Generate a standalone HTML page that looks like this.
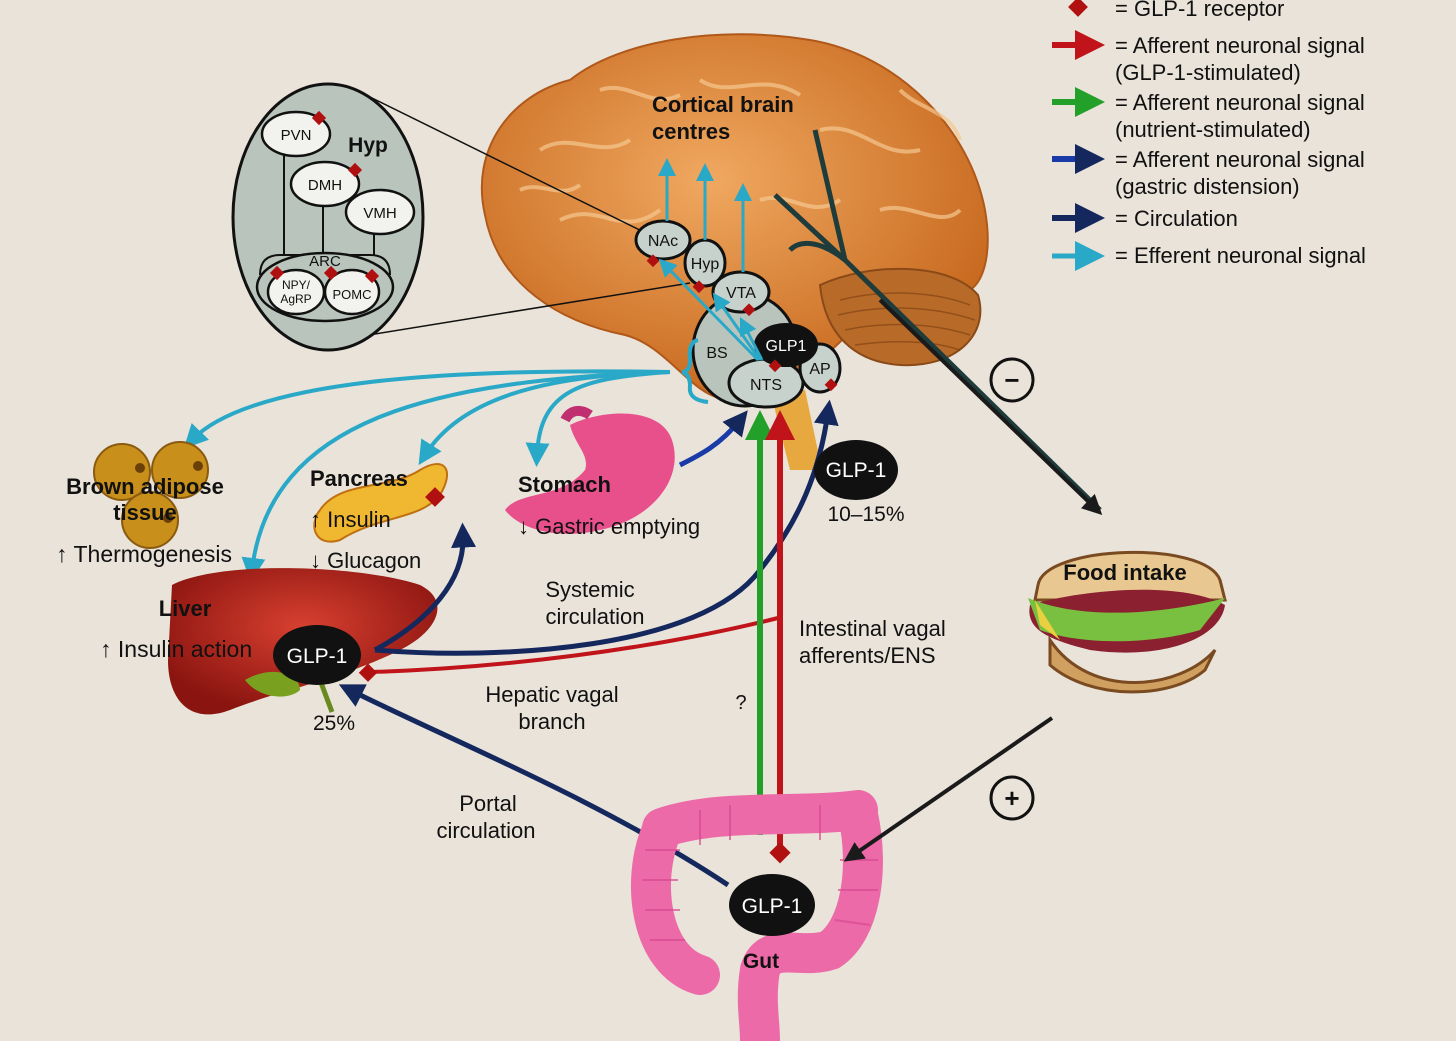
<!DOCTYPE html>
<html><head><meta charset="utf-8"><style>
html,body{margin:0;padding:0;background:#e9e3d9;}
svg{display:block;font-family:"Liberation Sans",Arial,sans-serif;}
</style></head><body>
<svg width="1456" height="1041" viewBox="0 0 1456 1041" xmlns="http://www.w3.org/2000/svg">
<defs>
<marker id="ac" markerWidth="6" markerHeight="6" refX="3" refY="3" orient="auto" markerUnits="strokeWidth"><path d="M0,0 L6,3 L0,6 Z" fill="#2aa8c8"/></marker>
<marker id="ab" markerWidth="5" markerHeight="5" refX="2.5" refY="2.5" orient="auto" markerUnits="strokeWidth"><path d="M0,0 L5,2.5 L0,5 Z" fill="#14285e"/></marker>
<marker id="ak" markerWidth="5" markerHeight="5" refX="2.5" refY="2.5" orient="auto" markerUnits="strokeWidth"><path d="M0,0 L5,2.5 L0,5 Z" fill="#1a1a1a"/></marker>
<marker id="ar" markerWidth="5" markerHeight="5" refX="2.5" refY="2.5" orient="auto" markerUnits="strokeWidth"><path d="M0,0 L5,2.5 L0,5 Z" fill="#c0141a"/></marker>
<marker id="ag" markerWidth="5" markerHeight="5" refX="2.5" refY="2.5" orient="auto" markerUnits="strokeWidth"><path d="M0,0 L5,2.5 L0,5 Z" fill="#22a02a"/></marker>
<radialGradient id="brain" cx="0.45" cy="0.4" r="0.6"><stop offset="0" stop-color="#f0a860"/><stop offset="1" stop-color="#c86a20"/></radialGradient>
<radialGradient id="liver" cx="0.5" cy="0.4" r="0.6"><stop offset="0" stop-color="#d84030"/><stop offset="1" stop-color="#8a1410"/></radialGradient>
</defs>
<rect width="1456" height="1041" fill="#e9e3d9"/>

<!-- brain -->
<path d="M485,215 C470,150 510,95 570,80 C620,40 720,25 810,40 C900,55 970,130 985,210 C992,250 985,280 970,290 L870,300 C860,330 820,360 790,385 L720,398 C690,392 665,345 625,335 C560,322 498,285 485,215 Z" fill="url(#brain)" stroke="#b0581a" stroke-width="2"/>
<path d="M820,285 C870,262 950,262 978,295 C990,335 955,368 900,365 C855,362 825,335 820,285 Z" fill="#b86a28" stroke="#8a4a18" stroke-width="2"/>
<g stroke="#7a3e10" stroke-width="1.5" fill="none" opacity="0.6"><path d="M840,300 C880,290 930,290 970,305"/><path d="M838,315 C880,305 930,305 975,320"/><path d="M845,330 C880,322 930,322 970,335"/><path d="M855,345 C890,340 930,340 960,350"/></g>
<g stroke="#f6c890" stroke-width="4" fill="none" opacity="0.7">
<path d="M540,150 C570,130 600,160 630,140"/><path d="M560,220 C600,200 620,240 660,210"/><path d="M700,80 C730,100 760,70 800,95"/><path d="M820,130 C860,120 880,160 920,150"/><path d="M880,210 C910,200 940,230 960,210"/><path d="M520,190 C540,180 560,200 580,185"/><path d="M760,200 C790,190 810,220 840,200"/><path d="M600,90 C630,80 650,110 680,95"/><path d="M900,90 C920,110 950,110 960,140"/></g>
<path d="M770,390 L805,390 L822,470 L790,470 Z" fill="#e8a840"/>
<!-- vagus dark lines -->
<path d="M815,130 L845,260 L1100,510" stroke="#1f3c3c" stroke-width="5" fill="none"/>
<path d="M775,195 L845,260 M790,250 C800,240 820,240 845,260" stroke="#1f3c3c" stroke-width="5" fill="none"/>
<line x1="880" y1="300" x2="1095" y2="508" stroke="#1a1a1a" stroke-width="4" marker-end="url(#ak)"/>

<!-- inset lines -->
<line x1="370" y1="97" x2="660" y2="240" stroke="#111" stroke-width="1.5"/>
<line x1="350" y1="338" x2="690" y2="283" stroke="#111" stroke-width="1.5"/>
<!-- inset -->
<ellipse cx="328" cy="217" rx="95" ry="133" fill="#b9c4bd" stroke="#111" stroke-width="3"/>
<g stroke="#111" stroke-width="2" fill="none"><line x1="284" y1="150" x2="284" y2="255"/><line x1="323" y1="205" x2="323" y2="255"/><line x1="374" y1="232" x2="374" y2="255"/><path d="M260,275 Q260,255 280,255 L370,255 Q390,255 390,275"/></g>
<g stroke="#111" stroke-width="2.5" fill="#f2f2ee"><ellipse cx="296" cy="134" rx="34" ry="22"/><ellipse cx="325" cy="184" rx="34" ry="22"/><ellipse cx="380" cy="212" rx="34" ry="22"/><ellipse cx="325" cy="287" rx="68" ry="34" fill="#b9c4bd"/><ellipse cx="296" cy="292" rx="28" ry="22"/><ellipse cx="352" cy="292" rx="27" ry="22"/></g>
<g font-size="15" fill="#111" text-anchor="middle"><text x="296" y="140">PVN</text><text x="325" y="190">DMH</text><text x="380" y="218">VMH</text><text x="325" y="266">ARC</text><text x="296" y="289" font-size="12">NPY/</text><text x="296" y="303" font-size="12">AgRP</text><text x="352" y="299" font-size="13">POMC</text></g>
<text x="368" y="152" font-size="21" font-weight="bold" fill="#111" text-anchor="middle">Hyp</text>
<g fill="#b01010"><rect x="314" y="113" width="10" height="10" transform="rotate(45 319 118)"/><rect x="350" y="165" width="10" height="10" transform="rotate(45 355 170)"/><rect x="272" y="268" width="10" height="10" transform="rotate(45 277 273)"/><rect x="326" y="268" width="10" height="10" transform="rotate(45 331 273)"/><rect x="367" y="271" width="10" height="10" transform="rotate(45 372 276)"/></g>

<!-- brain nodes -->
<ellipse cx="745" cy="350" rx="52" ry="56" fill="#b9c4bd" stroke="#111" stroke-width="3"/>
<g stroke="#111" stroke-width="3" fill="#c8d2cc"><ellipse cx="663" cy="240" rx="27" ry="19"/><ellipse cx="705" cy="263" rx="20" ry="23"/><ellipse cx="741" cy="292" rx="28" ry="20"/><ellipse cx="766" cy="383" rx="37" ry="24"/><ellipse cx="820" cy="368" rx="20" ry="24"/></g>
<ellipse cx="786" cy="345" rx="32" ry="22" fill="#111"/>
<g font-size="16" fill="#111" text-anchor="middle"><text x="663" y="246">NAc</text><text x="705" y="269">Hyp</text><text x="741" y="298">VTA</text><text x="717" y="358">BS</text><text x="766" y="390">NTS</text><text x="820" y="374">AP</text></g>
<text x="786" y="351" font-size="16" fill="#fff" text-anchor="middle">GLP1</text>
<g fill="#b01010"><rect x="649" y="256" width="9" height="9" transform="rotate(45 653 260)"/><rect x="695" y="282" width="9" height="9" transform="rotate(45 699 286)"/><rect x="745" y="305" width="9" height="9" transform="rotate(45 749 309)"/><rect x="771" y="361" width="9" height="9" transform="rotate(45 775 365)"/><rect x="827" y="380" width="9" height="9" transform="rotate(45 831 384)"/></g>
<g stroke="#2aa8c8" stroke-width="3" fill="none" marker-end="url(#ac)"><line x1="667" y1="221" x2="667" y2="167"/><line x1="705" y1="240" x2="705" y2="172"/><line x1="743" y1="272" x2="743" y2="192"/><line x1="758" y1="360" x2="665" y2="265"/><line x1="760" y1="360" x2="718" y2="300"/><line x1="762" y1="360" x2="744" y2="325"/></g>
<text x="652" y="112" font-size="22" font-weight="bold" fill="#111">Cortical brain</text>
<text x="652" y="139" font-size="22" font-weight="bold" fill="#111">centres</text>

<!-- efferent cyan -->
<path d="M698,340 Q688,342 690,360 Q690,372 682,372 Q690,374 690,386 Q688,400 708,402" stroke="#2aa8c8" stroke-width="4" fill="none"/>
<g stroke="#2aa8c8" stroke-width="4" fill="none" marker-end="url(#ac)">
<path d="M670,372 C450,368 250,380 192,440"/><path d="M670,372 C430,380 270,420 252,570"/><path d="M670,372 C540,375 460,400 425,455"/><path d="M670,372 C580,378 540,390 537,455"/></g>

<!-- brown adipose -->
<g fill="#c8901a" stroke="#8a5a10" stroke-width="2"><circle cx="122" cy="472" r="28"/><circle cx="180" cy="470" r="28"/><circle cx="150" cy="520" r="28"/></g>
<g fill="#6a4008"><circle cx="140" cy="468" r="5"/><circle cx="198" cy="466" r="5"/><circle cx="168" cy="518" r="5"/></g>
<text x="145" y="494" font-size="22" font-weight="bold" fill="#111" text-anchor="middle">Brown adipose</text>
<text x="145" y="520" font-size="22" font-weight="bold" fill="#111" text-anchor="middle">tissue</text>
<text x="56" y="562" font-size="23" fill="#111">↑ Thermogenesis</text>

<!-- pancreas -->
<path d="M320,510 C340,480 390,490 420,470 C445,455 455,470 440,495 C420,520 380,515 340,540 C315,548 308,525 320,510 Z" fill="#f0b830" stroke="#c07010" stroke-width="2"/>
<rect x="428" y="490" width="14" height="14" fill="#b01010" transform="rotate(45 435 497)"/>
<text x="310" y="486" font-size="22" font-weight="bold" fill="#111">Pancreas</text>
<text x="310" y="527" font-size="22" fill="#111">↑ Insulin</text>
<text x="310" y="568" font-size="22" fill="#111">↓ Glucagon</text>

<!-- stomach -->
<path d="M570,425 C600,410 660,405 672,440 C685,480 650,520 600,530 C560,540 520,530 505,510 C520,490 560,500 585,470 C590,455 575,445 570,425 Z" fill="#e8508c"/>
<path d="M565,420 C570,410 580,408 590,415" stroke="#c03070" stroke-width="10" fill="none"/>
<text x="518" y="492" font-size="22" font-weight="bold" fill="#111">Stomach</text>
<text x="518" y="534" font-size="22" fill="#111">↓ Gastric emptying</text>
<path d="M680,465 C700,455 720,445 740,420" stroke="#1a3aa8" stroke-width="5" fill="none" marker-end="url(#ab)"/>

<!-- liver -->
<path d="M172,585 C220,560 360,565 420,585 C450,600 440,630 400,650 C340,680 280,690 230,710 C190,725 168,700 168,660 Z" fill="url(#liver)"/>
<path d="M245,680 C270,665 300,672 300,690 C290,700 260,700 245,680 Z" fill="#7aa020"/>
<line x1="320" y1="680" x2="332" y2="712" stroke="#6a8a20" stroke-width="5"/>
<text x="185" y="616" font-size="22" font-weight="bold" fill="#111" text-anchor="middle">Liver</text>
<text x="100" y="657" font-size="23" fill="#111">↑ Insulin action</text>
<text x="334" y="730" font-size="21" fill="#111" text-anchor="middle">25%</text>

<!-- circulation dark blue -->
<path d="M375,650 C500,660 700,650 760,570 C800,520 820,470 828,412" stroke="#14285e" stroke-width="5" fill="none" marker-end="url(#ab)"/>
<path d="M375,650 C430,620 465,580 463,535" stroke="#14285e" stroke-width="5" fill="none" marker-end="url(#ab)"/>
<path d="M728,885 C600,800 450,740 350,690" stroke="#14285e" stroke-width="5" fill="none" marker-end="url(#ab)"/>
<ellipse cx="317" cy="655" rx="44" ry="30" fill="#111"/>
<text x="317" y="663" font-size="21" fill="#fff" text-anchor="middle">GLP-1</text>
<ellipse cx="856" cy="470" rx="42" ry="30" fill="#111"/>
<text x="856" y="477" font-size="21" fill="#fff" text-anchor="middle">GLP-1</text>
<text x="866" y="521" font-size="21" fill="#111" text-anchor="middle">10–15%</text>

<!-- red hepatic -->
<path d="M778,618 C650,650 500,668 372,672" stroke="#c0141a" stroke-width="4" fill="none"/>
<rect x="362" y="666" width="13" height="13" fill="#b01010" transform="rotate(45 368 672)"/>

<!-- vertical green/red -->
<line x1="760" y1="835" x2="760" y2="425" stroke="#22a02a" stroke-width="6" marker-end="url(#ag)"/>
<line x1="780" y1="845" x2="780" y2="425" stroke="#c0141a" stroke-width="6" marker-end="url(#ar)"/>

<text x="590" y="597" font-size="22" fill="#111" text-anchor="middle">Systemic</text>
<text x="595" y="624" font-size="22" fill="#111" text-anchor="middle">circulation</text>
<text x="799" y="636" font-size="22" fill="#111">Intestinal vagal</text>
<text x="799" y="663" font-size="22" fill="#111">afferents/ENS</text>
<text x="552" y="702" font-size="22" fill="#111" text-anchor="middle">Hepatic vagal</text>
<text x="552" y="729" font-size="22" fill="#111" text-anchor="middle">branch</text>
<text x="741" y="709" font-size="20" fill="#111" text-anchor="middle">?</text>
<text x="488" y="811" font-size="22" fill="#111" text-anchor="middle">Portal</text>
<text x="486" y="838" font-size="22" fill="#111" text-anchor="middle">circulation</text>

<!-- gut -->
<g stroke="#ec6aa8" stroke-width="40" fill="none" stroke-linecap="round">
<path d="M662,830 C640,880 650,960 700,975"/><path d="M662,828 C720,808 800,818 858,810"/><path d="M858,815 C870,870 860,930 830,950 C800,960 770,940 760,970 C755,1000 760,1020 760,1041"/></g>
<g stroke="#d84a90" stroke-width="2" fill="none" opacity="0.7"><path d="M645,850 L680,850 M642,880 L678,880 M645,910 L680,910 M650,940 L685,940 M700,810 L700,845 M730,805 L730,840 M820,805 L820,840 M840,860 L878,860 M838,890 L878,890 M835,920 L870,925"/></g>
<rect x="773" y="845" width="15" height="15" fill="#b01010" transform="rotate(45 780 852)"/>
<ellipse cx="772" cy="905" rx="43" ry="31" fill="#111"/>
<text x="772" y="913" font-size="21" fill="#fff" text-anchor="middle">GLP-1</text>
<text x="761" y="968" font-size="21" font-weight="bold" fill="#111" text-anchor="middle">Gut</text>

<!-- food intake -->
<path d="M1038,585 C1045,545 1205,540 1220,580 L1225,600 L1035,600 Z" fill="#e8c890" stroke="#7a4a20" stroke-width="3"/>
<path d="M1030,605 C1080,590 1180,580 1225,605 C1220,640 1160,660 1090,650 C1050,640 1025,630 1030,605 Z" fill="#8a2030"/>
<path d="M1028,598 C1080,620 1160,615 1225,598 L1200,630 C1150,645 1080,645 1040,630 Z" fill="#7ac040"/>
<path d="M1035,600 L1060,640 L1040,625 Z" fill="#e8d040"/>
<path d="M1050,640 C1090,700 1180,690 1215,650 L1205,670 C1170,700 1090,700 1050,665 Z" fill="#d0a060" stroke="#7a4a20" stroke-width="3"/>
<text x="1125" y="580" font-size="22" font-weight="bold" fill="#111" text-anchor="middle">Food intake</text>
<line x1="1052" y1="718" x2="852" y2="856" stroke="#1a1a1a" stroke-width="4" marker-end="url(#ak)"/>
<circle cx="1012" cy="380" r="21" fill="none" stroke="#111" stroke-width="3"/><text x="1012" y="389" font-size="26" font-weight="bold" text-anchor="middle" fill="#111">−</text>
<circle cx="1012" cy="798" r="21" fill="none" stroke="#111" stroke-width="3"/><text x="1012" y="807" font-size="26" font-weight="bold" text-anchor="middle" fill="#111">+</text>

<!-- legend -->
<rect x="1071" y="0" width="14" height="14" fill="#b01010" transform="rotate(45 1078 7)"/>
<g font-size="22" fill="#111">
<text x="1115" y="16">= GLP-1 receptor</text>
<text x="1115" y="53">= Afferent neuronal signal</text><text x="1115" y="80">(GLP-1-stimulated)</text>
<text x="1115" y="110">= Afferent neuronal signal</text><text x="1115" y="137">(nutrient-stimulated)</text>
<text x="1115" y="167">= Afferent neuronal signal</text><text x="1115" y="194">(gastric distension)</text>
<text x="1115" y="226">= Circulation</text>
<text x="1115" y="263">= Efferent neuronal signal</text></g>
<g stroke-width="6">
<line x1="1052" y1="45" x2="1090" y2="45" stroke="#c0141a" marker-end="url(#ar)"/>
<line x1="1052" y1="102" x2="1090" y2="102" stroke="#22a02a" marker-end="url(#ag)"/>
<line x1="1052" y1="159" x2="1090" y2="159" stroke="#1a3aa8" marker-end="url(#ab)"/>
<line x1="1052" y1="218" x2="1090" y2="218" stroke="#14285e" marker-end="url(#ab)"/>
<line x1="1052" y1="256" x2="1090" y2="256" stroke="#2aa8c8" stroke-width="5" marker-end="url(#ac)"/></g>
</svg>
</body></html>
